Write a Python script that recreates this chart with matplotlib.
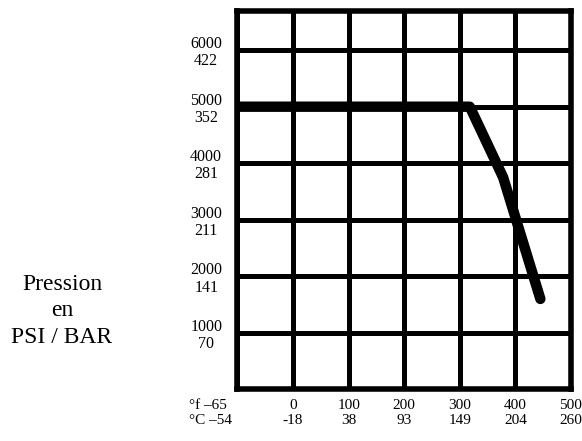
import numpy as np
import matplotlib.pyplot as plt

# temperature axis (grid columns are evenly spaced, values are not)
temp_f = [-65, 0, 100, 200, 300, 400, 500]
temp_c = [-54, -18, 38, 93, 149, 204, 260]

# pressure axis
psi = [1000, 2000, 3000, 4000, 5000, 6000]
bar = [70, 141, 211, 281, 352, 422]

# pressure / temperature limit curve
curve_f = [-65, 318, 378, 445]
curve_psi = [5000, 5000, 3750, 1600]

plt.rcParams['font.family'] = ['Liberation Serif', 'DejaVu Serif']

grid_idx = np.arange(len(temp_f))


def to_grid(t):
    return np.interp(t, temp_f, grid_idx)


def from_grid(i):
    return np.interp(i, grid_idx, temp_f)


fig = plt.figure(figsize=(5.82, 4.41), dpi=100)
ax = fig.add_axes([0.408, 0.117, 0.573, 0.859])
ax.set_xscale('function', functions=(to_grid, from_grid))
ax.set_xlim(temp_f[0], temp_f[-1])
ax.set_ylim(0, 6700)

ax.plot(curve_f, curve_psi, color='black', lw=7.5,
        solid_capstyle='round', solid_joinstyle='round', zorder=3)

ax.set_xticks(temp_f)
ax.set_xticklabels([''] + [f"{f}\n{c}" for f, c in zip(temp_f[1:], temp_c[1:])])
ax.set_yticks(psi)
ax.set_yticklabels([f"{p}\n{b}" for p, b in zip(psi, bar)])
ax.grid(True, color='black', lw=3.6)
ax.set_axisbelow(True)
ax.tick_params(length=0)
ax.tick_params(axis='x', labelsize=11, pad=7)
ax.tick_params(axis='y', labelsize=11.5, pad=11)
for lbl in ax.get_xticklabels():
    lbl.set_linespacing(1.2)
for lbl in ax.get_yticklabels():
    lbl.set_multialignment('center')
    lbl.set_linespacing(1.1)
for sp in ax.spines.values():
    sp.set_linewidth(4)

# first temperature column label sits left of the frame
ax.annotate(f"°f \u2013{abs(temp_f[0])}\n°C \u2013{abs(temp_c[0])}",
            xy=(temp_f[0], 0), xycoords=('data', 'axes fraction'),
            xytext=(-4, -7), textcoords='offset points',
            ha='right', va='top', multialignment='left',
            fontsize=11, linespacing=1.2)

fig.text(62 / 582, 1 - 311 / 441, "Pression\nen\nPSI / BAR",
         ha='center', va='center', fontsize=17, linespacing=1.37)

fig.savefig('out.png', dpi=100)
